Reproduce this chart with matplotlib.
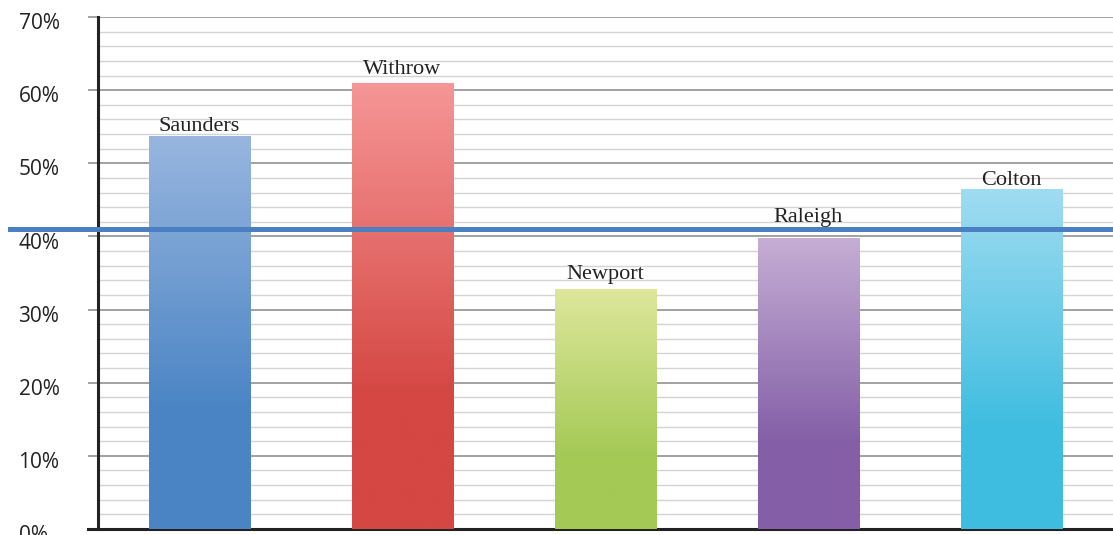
import numpy as np
import matplotlib.pyplot as plt
from matplotlib.colors import LinearSegmentedColormap
from matplotlib.transforms import ScaledTranslation

# data
schools = ["Saunders", "Withrow", "Newport", "Raleigh", "Colton"]
values = [53.6, 60.9, 32.8, 39.7, 46.4]
average = 41.0
ytick_labels = ["0%", "10%", "20%", "30%", "40%", "50%", "60%", "70%"]

# styling
top_colors = ["#98b6df", "#f69696", "#dee79c", "#c5aed5", "#a0dcf1"]
bottom_colors = ["#4a84c4", "#d44743", "#a4c955", "#845fa7", "#3fbde0"]
label_gap = [0.1, 0.65, 0.65, 1.6, 0.0]   # space between bar top and name

fig = plt.figure(figsize=(11.13, 5.35), dpi=100)
ax = fig.add_axes([98 / 1113, 6 / 535, 1015 / 1113, 512 / 535])

x = np.arange(len(schools))
bars = ax.bar(x, values, width=0.5, color="none", zorder=3)

# gradient fill for each bar
grad = np.linspace(0, 1, 256).reshape(-1, 1)
for b, c_top, c_bot in zip(bars, top_colors, bottom_colors):
    cmap = LinearSegmentedColormap.from_list("g", [(0, c_bot), (0.3, c_bot), (1, c_top)])
    x0, w, h = b.get_x(), b.get_width(), b.get_height()
    ax.imshow(grad, cmap=cmap, origin="lower", aspect="auto",
              extent=[x0, x0 + w, 0, h], zorder=3)

for xi, v, name, g in zip(x, values, schools, label_gap):
    ax.text(xi, v + g, name, ha="center", va="bottom", fontsize=16,
            family="Liberation Serif", color="#222222", zorder=7)

ax.set_xlim(-0.5, 4.5)
ax.set_ylim(0, 70)
ax.set_xticks([])

# grid lines
ax.set_yticks(np.arange(0, 71, 10))
ax.set_yticks(np.arange(0, 71, 2), minor=True)
ax.grid(axis="y", which="major", color="#9a9a9a", linewidth=1.3, zorder=1)
ax.grid(axis="y", which="minor", color="#d4d4d4", linewidth=1.0, zorder=1)
ax.tick_params(axis="y", which="major", length=7.2, width=1.3, color="#9a9a9a",
               pad=50, labelsize=15, labelcolor="#222222")
ax.tick_params(axis="y", which="minor", length=0)
ax.set_yticklabels(ytick_labels, family="Open Sans")
off = ScaledTranslation(0, -3 / 72, fig.dpi_scale_trans)
for lab in ax.get_yticklabels():
    lab.set_horizontalalignment("left")
    lab.set_transform(lab.get_transform() + off)

ax.spines["top"].set_visible(False)
ax.spines["right"].set_visible(False)
ax.spines["left"].set_linewidth(2.2)
ax.spines["left"].set_color("#222222")
ax.spines["bottom"].set_linewidth(2.2)
ax.spines["bottom"].set_color("#222222")
ax.spines["bottom"].set_bounds(-0.55, 4.5)

# average line
ax.axhline(average, xmin=-0.087, xmax=1, color="#4a7fc1", linewidth=3.6,
           clip_on=False, zorder=6)

fig.savefig("out.png", dpi=100)
